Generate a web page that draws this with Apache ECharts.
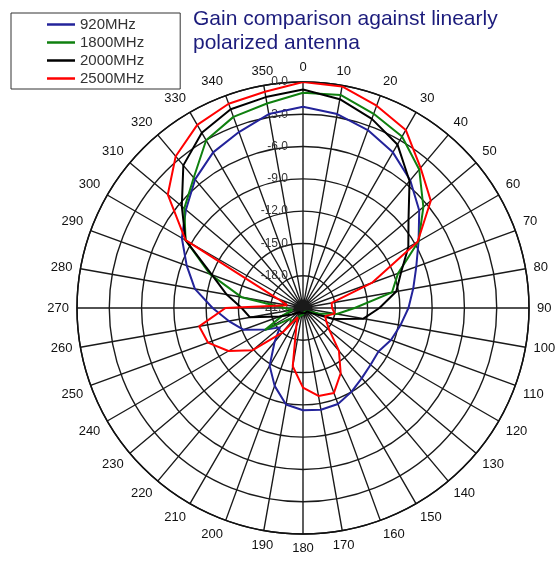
<!DOCTYPE html>
<html><head><meta charset="utf-8">
<script src="https://cdn.jsdelivr.net/npm/echarts@6.0.0/dist/echarts.min.js"></script>
<style>html,body{margin:0;padding:0;background:#fff}#c{width:556px;height:563px}</style>
</head><body><div id="c"></div>
<script>
// angles in degrees (0 = top, clockwise)
const angles = [0,10,20,30,40,50,60,70,80,90,100,110,120,130,140,150,160,170,180,190,200,210,220,230,240,250,260,270,280,290,300,310,320,330,340,350];
const seriesNames = ['920MHz','1800MHz','2000MHz','2500MHz'];
const seriesColors = ['#23239a','#0f800f','#000000','#ff0000'];
// gain in dB
const gain920 = [-2.3,-2.7,-3.4,-4.3,-5.5,-6.9,-8.6,-9.8,-10.6,-11.2,-11.8,-12.3,-12.9,-12.8,-12.5,-12.0,-11.5,-11.4,-11.5,-11.9,-13.3,-14.8,-16.9,-18.2,-17.0,-15.1,-14.0,-12.6,-10.8,-9.5,-8.0,-6.8,-5.4,-4.3,-3.6,-2.7];
const gain1800 = [-1.0,-0.9,-1.8,-2.6,-4.2,-6.4,-8.6,-11.6,-12.6,-16.2,-17.8,-19.5,-20.3,-20.5,-20.6,-20.6,-20.6,-20.5,-20.4,-20.4,-20.2,-19.8,-19.2,-19.5,-16.9,-19.0,-20.0,-19.3,-15.2,-11.8,-8.4,-6.6,-5.2,-3.0,-2.1,-1.7];
const gain2000 = [-0.7,-1.3,-2.3,-3.45,-5.6,-8.2,-9.7,-11.3,-12.2,-13.9,-15.3,-18.0,-20.0,-20.5,-20.5,-20.5,-20.5,-20.5,-20.5,-20.5,-20.5,-20.5,-20.5,-20.4,-19.8,-18.7,-16.0,-15.3,-13.8,-12.0,-8.4,-6.3,-3.7,-2.2,-1.35,-1.1];
const gain2500 = [0.0,-0.1,-1.0,-1.9,-4.0,-5.5,-8.7,-14.2,-18.3,-18.3,-18.0,-18.8,-18.5,-17.8,-15.8,-14.0,-12.6,-12.7,-13.6,-15.5,-19.2,-20.0,-18.0,-14.9,-13.0,-11.6,-11.2,-13.8,-19.5,-18.5,-8.4,-4.6,-2.6,-1.35,-0.8,-0.6];
const gainSets = [gain920, gain1800, gain2000, gain2500];
const radiusMin = -21, radiusMax = 0, radiusStep = 3;
const titleText = 'Gain comparison against linearly\npolarized antenna';

function closedData(vals){
  const d = angles.map((a,i)=>[vals[i], a]);
  d.push([vals[0], 360]);
  return d;
}

const chart = echarts.init(document.getElementById('c'), null, {renderer:'canvas'});
chart.setOption({
  backgroundColor:'#ffffff',
  animation:false,
  title:{
    text:titleText, left:193, top:7, padding:0,
    textStyle:{fontSize:21, fontWeight:'normal', color:'#1c1c7c', lineHeight:24, fontFamily:'Arial, Liberation Sans, sans-serif'}
  },
  legend:{
    data:seriesNames, orient:'vertical', left:11, top:13,
    padding:[4,36,3,36], itemGap:3, itemWidth:28, itemHeight:2.5, icon:'rect',
    borderColor:'#333', borderWidth:1,
    textStyle:{fontSize:15, color:'#333', fontFamily:'Arial, Liberation Sans, sans-serif', lineHeight:15}
  },
  polar:{center:[303,308], radius:226},
  angleAxis:{
    type:'value', min:0, max:360, interval:10, startAngle:90, clockwise:true,
    axisLine:{lineStyle:{color:'#111', width:1.5}},
    axisTick:{show:false},
    axisLabel:{margin:8, fontSize:13, color:'#111', fontFamily:'Arial, Liberation Sans, sans-serif',
      formatter:v=> v===360 ? '' : String(v)},
    splitLine:{lineStyle:{color:'#1a1a1a', width:1.4}}
  },
  radiusAxis:{
    type:'value', min:radiusMin, max:radiusMax, interval:radiusStep,
    axisLine:{show:false}, axisTick:{show:false},
    axisLabel:{formatter:v=>v.toFixed(1), fontSize:12, color:'#333', margin:15, fontFamily:'Arial, Liberation Sans, sans-serif'},
    splitLine:{lineStyle:{color:'#1a1a1a', width:1.4}}
  },
  series: seriesNames.map((n,i)=>({
    name:n, type:'line', coordinateSystem:'polar', data:closedData(gainSets[i]),
    symbol:'none', lineStyle:{color:seriesColors[i], width:2}, itemStyle:{color:seriesColors[i]}, z:2+i
  }))
});
</script></body></html>
